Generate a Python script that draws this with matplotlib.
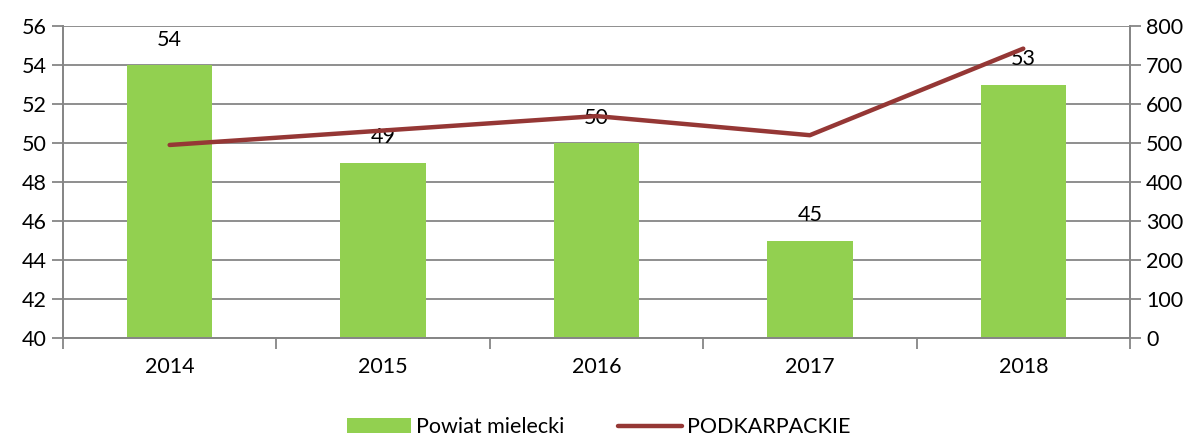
import matplotlib.pyplot as plt
import numpy as np

plt.rcParams['font.family'] = ['Lato', 'DejaVu Sans']

years = ['2014', '2015', '2016', '2017', '2018']
powiat = [54, 49, 50, 45, 53]
podkarpackie = [495, 532, 569, 520, 742]

fig = plt.figure(figsize=(11.97, 4.37), dpi=100)
ax = fig.add_axes([0.0526, 0.2265, 0.8914, 0.714])
ax2 = ax.twinx()

x = np.arange(len(years))
grid_c = '#868686'
fs = 15.5

ax.bar(x, powiat, width=0.4, color='#92D050', zorder=2, label='Powiat mielecki')
for xi, v in zip(x, powiat):
    ax.annotate(str(v), (xi, v), xytext=(0, 11), textcoords='offset points',
                ha='center', va='bottom', fontsize=fs)

ax2.plot(x, podkarpackie, color='#953735', lw=3.2, solid_capstyle='round',
         zorder=3, label='PODKARPACKIE')

ax.set_xlim(-0.5, len(years) - 0.5)
ax.set_ylim(40, 56)
ax.set_yticks(np.arange(40, 57, 2))
ax2.set_ylim(0, 800)
ax2.set_yticks(np.arange(0, 801, 100))

ax.yaxis.grid(True, color=grid_c, lw=1.3, zorder=0)
ax.set_axisbelow(True)

ax.set_xticks(x)
ax.set_xticklabels(years)
ax.set_xticks(np.arange(-0.5, len(years)), minor=True)
ax.tick_params(axis='x', which='major', length=0, pad=14, labelsize=fs)
ax.tick_params(axis='x', which='minor', length=8, color=grid_c, width=1.3)
ax.tick_params(axis='y', length=8, color=grid_c, width=1.3, labelsize=fs)
ax2.tick_params(axis='y', length=8, color=grid_c, width=1.3, labelsize=fs)

for a in (ax, ax2):
    a.spines['top'].set_visible(False)
    for s in ['left', 'right', 'bottom']:
        a.spines[s].set_color(grid_c)
        a.spines[s].set_linewidth(1.3)

h1, l1 = ax.get_legend_handles_labels()
h2, l2 = ax2.get_legend_handles_labels()
fig.legend(h1 + h2, l1 + l2, loc='lower center', bbox_to_anchor=(0.5, -0.045),
           ncol=2, frameon=False, fontsize=fs, handlelength=3.0, columnspacing=2.5,
           handletextpad=0.2)

fig.savefig('out.png', dpi=100)
